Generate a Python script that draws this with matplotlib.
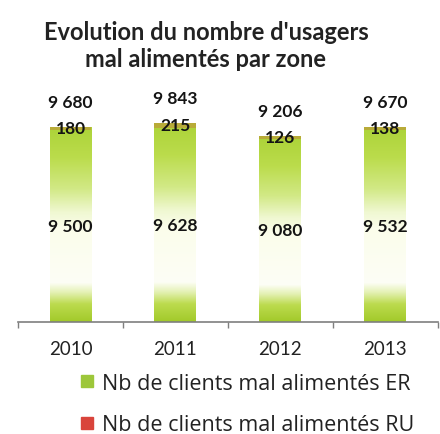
import numpy as np
import matplotlib.pyplot as plt
from matplotlib.colors import LinearSegmentedColormap
from matplotlib.lines import Line2D

plt.rcParams['font.family'] = ['Lato', 'DejaVu Sans']

years = ['2010', '2011', '2012', '2013']
er_values = [9500, 9628, 9080, 9532]
ru_values = [180, 215, 126, 138]
totals = [9680, 9843, 9206, 9670]

green = '#9dc73a'
red = '#d9443b'

# vertical fade used inside each bar (0 = bottom, 1 = top of bar)
fade = LinearSegmentedColormap.from_list('fade', [
    (0.00, '#a2c92a'),
    (0.09, '#bcdb4e'),
    (0.15, '#e4f1b4'),
    (0.20, '#fdfef6'),
    (0.48, '#fbfdeb'),
    (0.56, '#f0f8d2'),
    (0.68, '#d2e986'),
    (0.84, '#bbdc4c'),
    (1.00, '#acd338'),
])


def fmt(v):
    return f'{v:,}'.replace(',', ' ')


fig = plt.figure(figsize=(4.4, 4.35), dpi=100)
ax = fig.add_axes([0.041, 0.2575, 0.954, 0.557])

x = np.arange(len(years))
bars = ax.bar(x, er_values, width=0.4, facecolor='none', edgecolor='none')
grad = np.linspace(0, 1, 256).reshape(-1, 1)
for b, tot in zip(bars, totals):
    x0 = b.get_x()
    b.set_height(tot)
    im = ax.imshow(grad, cmap=fade, origin='lower', aspect='auto',
                   extent=(x0, x0 + b.get_width(), 0, tot), zorder=1)
    im.set_clip_path(b)
ru = ax.bar(x, ru_values, width=0.4, bottom=er_values, color=red, alpha=0.28,
            edgecolor='none', zorder=2)

for i in range(len(years)):
    ax.text(x[i], er_values[i] / 2, fmt(er_values[i]), ha='center', va='center',
            fontsize=12.5, fontweight='bold', color='#141414', zorder=3)
    ax.text(x[i], er_values[i] + ru_values[i] / 2, fmt(ru_values[i]), ha='center',
            va='center', fontsize=12.5, fontweight='bold', color='#141414', zorder=3)
    ax.annotate(fmt(totals[i]), (x[i], totals[i]), xytext=(0, 18),
                textcoords='offset points', ha='center', va='center',
                fontsize=12.5, fontweight='bold', color='#141414')

ax.set_xlim(-0.5, 3.5)
ax.set_ylim(0, 12000)
ax.set_yticks([])
ax.set_xticks(x, years, fontsize=13.5, color='#222222')
ax.set_xticks(np.arange(-0.5, 3.6, 1), minor=True)
ax.tick_params(axis='x', which='major', length=0, pad=13)
ax.tick_params(axis='x', which='minor', length=4, color='#7f7f7f', width=1)
for s in ['top', 'right', 'left']:
    ax.spines[s].set_visible(False)
ax.spines['bottom'].set_color('#7f7f7f')
ax.spines['bottom'].set_linewidth(1.2)

fig.text(0.468, 0.894, "Evolution du nombre d'usagers\nmal alimentés par zone",
         ha='center', va='center', fontsize=17, fontweight='bold',
         color='#222222', linespacing=1.25)

handles = [
    Line2D([], [], marker='s', linestyle='none', markersize=8, color=green),
    Line2D([], [], marker='s', linestyle='none', markersize=8, color=red),
]
fig.legend(handles, ['Nb de clients mal alimentés ER', 'Nb de clients mal alimentés RU'],
           loc='center', bbox_to_anchor=(0.557, 0.069), frameon=False,
           prop={'family': 'Open Sans', 'size': 15.5}, labelspacing=0.95,
           handletextpad=0.2, handlelength=1.0, labelcolor='#222222')

fig.savefig('out.png', dpi=100)
